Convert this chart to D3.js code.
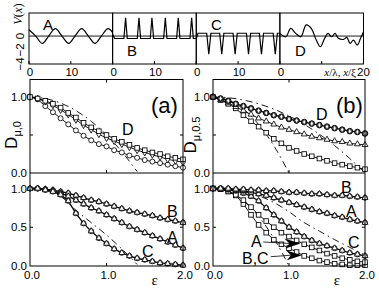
<!DOCTYPE html>
<html>
<head>
<meta charset="utf-8">
<script src="https://cdn.jsdelivr.net/npm/d3@7"></script>
<style>
body { margin: 0; background: #fff; }
text { font-family: "Liberation Sans", Arial, sans-serif; fill: #000; }
</style>
</head>
<body>
<div id="chart"></div>
<script>
// ---- data: top strip potentials V(x), x in units of lambda / xi
const potA_x = [0, 1.6, 3.2, 4.7, 6.3, 7.9, 9.5, 11.0, 12.6, 14.2, 15.8, 17.3, 18.9, 20];
const potA_v = [0.9, 0, -1.05, 0, 1.05, 0, -1.05, 0, 1.05, 0, -1.05, 0, 1.05, 0.5];
const potB_x = [0, 0.5, 2.7, 3.1, 3.5, 5.9, 6.3, 6.7, 9.0, 9.4, 9.8, 12.2, 12.6, 13.0, 15.3, 15.7, 16.1, 18.5, 18.9, 19.3, 20];
const potB_v = [0.2, -0.35, -0.35, 2.6, -0.35, -0.35, 2.6, -0.35, -0.35, 2.6, -0.35, -0.35, 2.6, -0.35, -0.35, 2.6, -0.35, -0.35, 2.6, -0.35, -0.35];
const potC_x = [0, 0.4, 2.5, 3.0, 3.5, 5.6, 6.1, 6.6, 8.8, 9.3, 9.8, 12.0, 12.5, 13.0, 15.1, 15.6, 16.1, 18.4, 18.9, 19.4, 20];
const potC_v = [-0.4, 0.4, 0.4, -2.6, 0.4, 0.4, -2.6, 0.4, 0.4, -2.6, 0.4, 0.4, -2.6, 0.4, 0.4, -2.6, 0.4, 0.4, -2.6, 0.4, 0.4];
const potD_x = [0, 1.4, 2.6, 3.8, 5.0, 6.3, 7.5, 8.7, 9.7, 10.7, 11.5, 12.4, 13.2, 14.0, 15.2, 16.0, 16.8, 17.6, 18.5, 19.3, 20];
const potD_v = [0.38, -0.1, 1.1, 0.38, -0.1, 1.6, 1.1, -0.57, -1.52, -0.33, 0.38, -0.1, 0.38, -0.33, -0.48, -0.2, -1.05, -0.57, -1.3, -0.33, 0.62];
const potLabels = ["A", "B", "C", "D"];
const topXTicks = [0, 10];
const topYTicks = [-4, -2, 0];

// ---- data: D vs epsilon
const eps = [0, 0.1, 0.2, 0.3, 0.4, 0.5, 0.6, 0.7, 0.8, 0.9, 1.0, 1.1, 1.2, 1.3, 1.4, 1.5, 1.6, 1.7, 1.8, 1.9, 2.0];

// (a) top, mu = 0, potential D
const aTopSquares = [1.0, 0.98, 0.95, 0.91, 0.86, 0.79, 0.73, 0.66, 0.60, 0.55, 0.50, 0.45, 0.41, 0.37, 0.33, 0.30, 0.27, 0.25, 0.22, 0.20, 0.18];
const aTopDiamonds = [1.0, 0.98, 0.94, 0.89, 0.83, 0.77, 0.70, 0.63, 0.57, 0.51, 0.46, 0.42, 0.38, 0.34, 0.30, 0.27, 0.24, 0.21, 0.18, 0.16, 0.14];
const aTopCircles = [1.0, 0.97, 0.88, 0.80, 0.72, 0.64, 0.56, 0.49, 0.43, 0.38, 0.35, 0.30, 0.27, 0.23, 0.20, 0.17, 0.15, 0.13, 0.11, 0.09, 0.07];
const aTopTheoryEps = [0, 0.2, 0.4, 0.6, 0.8, 1.0, 1.2, 1.4];
const aTopTheory = [1.0, 0.98, 0.92, 0.82, 0.68, 0.50, 0.28, 0.02];

// (a) bottom, mu = 0, potentials A, B, C
const aBotB = [1.0, 1.0, 0.99, 0.98, 0.96, 0.94, 0.91, 0.88, 0.85, 0.83, 0.80, 0.77, 0.74, 0.71, 0.69, 0.67, 0.65, 0.62, 0.60, 0.58, 0.56];
const aBotA = [1.0, 1.0, 0.99, 0.97, 0.94, 0.90, 0.85, 0.80, 0.75, 0.71, 0.66, 0.61, 0.56, 0.51, 0.47, 0.43, 0.39, 0.35, 0.31, 0.27, 0.23];
const aBotC = [1.0, 1.0, 0.98, 0.96, 0.92, 0.84, 0.68, 0.55, 0.45, 0.36, 0.29, 0.22, 0.17, 0.13, 0.10, 0.08, 0.06, 0.04, 0.03, 0.02, 0.01];
const aBotTheoryEps = [0, 0.2, 0.4, 0.6, 0.8, 1.0, 1.2, 1.4];
const aBotTheory = [1.0, 0.98, 0.90, 0.72, 0.56, 0.40, 0.22, 0.02];

// (b) top, mu = 0.5, potential D
const bTopCircles = [1.0, 0.98, 0.95, 0.91, 0.88, 0.85, 0.82, 0.79, 0.76, 0.74, 0.71, 0.69, 0.67, 0.65, 0.63, 0.61, 0.59, 0.57, 0.55, 0.54, 0.52];
const bTopTriangles = [1.0, 0.96, 0.92, 0.87, 0.82, 0.77, 0.72, 0.68, 0.64, 0.60, 0.57, 0.54, 0.51, 0.48, 0.46, 0.44, 0.42, 0.41, 0.39, 0.38, 0.37];
const bTopSquares = [1.0, 0.96, 0.91, 0.85, 0.76, 0.68, 0.61, 0.53, 0.45, 0.39, 0.33, 0.29, 0.25, 0.22, 0.19, 0.16, 0.13, 0.11, 0.09, 0.07, 0.05];
const bTopSteepEps = [0, 0.2, 0.4, 0.6, 0.8, 1.0];
const bTopSteep = [1.0, 0.96, 0.84, 0.64, 0.36, 0.0];
const bTopFlatEps = [0, 0.2, 0.4, 0.6, 0.8, 1.0, 1.2, 1.4, 1.6, 1.8, 2.0];
const bTopFlat = [1.0, 0.99, 0.96, 0.91, 0.84, 0.75, 0.64, 0.51, 0.36, 0.19, 0.0];

// (b) bottom, mu = 0.5, potentials A, B, C
const bBotB = [1.0, 1.0, 1.0, 0.99, 0.99, 0.98, 0.98, 0.97, 0.97, 0.96, 0.95, 0.95, 0.94, 0.93, 0.93, 0.92, 0.91, 0.91, 0.90, 0.89, 0.88];
const bBotA = [1.0, 1.0, 0.99, 0.98, 0.97, 0.95, 0.93, 0.91, 0.88, 0.85, 0.82, 0.79, 0.76, 0.73, 0.70, 0.68, 0.65, 0.63, 0.60, 0.58, 0.56];
const bBotC = [1.0, 1.0, 0.99, 0.97, 0.94, 0.90, 0.84, 0.75, 0.66, 0.58, 0.50, 0.44, 0.38, 0.33, 0.29, 0.26, 0.23, 0.20, 0.17, 0.15, 0.13];
const bBotAsq = [1.0, 0.99, 0.97, 0.92, 0.85, 0.76, 0.66, 0.58, 0.50, 0.43, 0.38, 0.33, 0.28, 0.24, 0.20, 0.16, 0.13, 0.10, 0.08, 0.06, 0.05];
const bBotBCsq = [1.0, 0.99, 0.96, 0.91, 0.80, 0.66, 0.53, 0.43, 0.34, 0.28, 0.23, 0.18, 0.13, 0.10, 0.07, 0.05, 0.03, 0.02, 0.01, 0.01, 0.01];
const bBotSteepEps = [0, 0.2, 0.4, 0.6, 0.8, 1.0];
const bBotSteep = [1.0, 0.96, 0.84, 0.64, 0.36, 0.0];
const bBotFlatEps = [0, 0.4, 0.8, 1.0, 1.2, 1.4, 1.6, 1.8, 2.0];
const bBotFlat = [1.0, 0.96, 0.82, 0.70, 0.56, 0.45, 0.34, 0.24, 0.14];

const epsTicks = [0, 1, 2];

function main() {
    const svg = d3.select("#chart").append("svg")
        .attr("width", 379)
        .attr("height", 290);

    // ================= top strip =================
    const stripLeft = 29, stripRight = 363.5, stripTop = 13, stripBottom = 64;
    const panelW = (stripRight - stripLeft) / 4;
    const yTop = d3.scaleLinear().domain([-4, 3.3]).range([stripBottom, stripTop]);

    const pots = [
        { x: potA_x, v: potA_v, curve: d3.curveCatmullRom, lx: 43, ly: 30 },
        { x: potB_x, v: potB_v, curve: d3.curveLinear, lx: 127, ly: 56 },
        { x: potC_x, v: potC_v, curve: d3.curveLinear, lx: 211, ly: 30 },
        { x: potD_x, v: potD_v, curve: d3.curveCatmullRom, lx: 295, ly: 56 }
    ];

    svg.append("line")
        .attr("x1", stripLeft).attr("x2", stripRight)
        .attr("y1", yTop(0)).attr("y2", yTop(0))
        .attr("stroke", "#000").attr("stroke-width", 0.9);

    pots.forEach((p, i) => {
        const L = stripLeft + i * panelW;
        const xs = d3.scaleLinear().domain([0, 20]).range([L, L + panelW]);
        const pts = p.x.map((d, k) => [d, p.v[k]]);
        svg.append("path")
            .attr("d", d3.line().x(d => xs(d[0])).y(d => yTop(d[1])).curve(p.curve)(pts))
            .attr("fill", "none")
            .attr("stroke", "#000")
            .attr("stroke-width", 1.2);
        svg.append("rect")
            .attr("x", L).attr("y", stripTop)
            .attr("width", panelW).attr("height", stripBottom - stripTop)
            .attr("fill", "none").attr("stroke", "#000").attr("stroke-width", 1);
        topXTicks.forEach(t => {
            svg.append("line")
                .attr("x1", xs(t)).attr("x2", xs(t))
                .attr("y1", stripBottom).attr("y2", stripBottom - 3)
                .attr("stroke", "#000");
            // the last panel carries the axis name instead of its "10"
            if (i === 3 && t === 10) return;
            svg.append("text")
                .attr("x", xs(t) + 1).attr("y", 76)
                .attr("text-anchor", "middle")
                .attr("font-size", 11.5)
                .text(t);
        });
        svg.append("text")
            .attr("x", p.lx).attr("y", p.ly)
            .attr("font-size", 15)
            .text(potLabels[i]);
    });
    svg.append("text")
        .attr("x", stripRight).attr("y", 76)
        .attr("text-anchor", "middle")
        .attr("font-size", 11.5)
        .text(20);
    svg.append("text")
        .attr("x", 356).attr("y", 75.5)
        .attr("text-anchor", "end")
        .attr("font-size", 11)
        .style("font-family", "'Liberation Serif', serif")
        .html("<tspan font-style='italic'>x</tspan>/λ, <tspan font-style='italic'>x</tspan>/ξ");

    topYTicks.forEach(t => {
        svg.append("text")
            .attr("transform", "translate(24," + yTop(t) + ") rotate(-90)")
            .attr("text-anchor", "middle")
            .attr("font-size", 11.5)
            .text(t === 0 ? "0" : "\u2212" + Math.abs(t));
    });
    svg.append("text")
        .attr("transform", "translate(22,14) rotate(-90)")
        .attr("text-anchor", "middle")
        .attr("font-size", 12.5)
        .style("font-family", "'Liberation Serif', serif")
        .html("<tspan font-style='italic'>V</tspan>(<tspan font-style='italic'>x</tspan>)");

    // ================= lower panels =================
    const yTopSub = d3.scaleLinear().domain([0, 1.23]).range([173, 79.5]);
    const yBotSub = d3.scaleLinear().domain([0, 1.2]).range([266, 173]);

    function marker(g, type, cx, cy) {
        if (type === "circle") {
            g.append("circle").attr("cx", cx).attr("cy", cy).attr("r", 2.5)
                .attr("fill", "#fff").attr("stroke", "#000").attr("stroke-width", 0.85);
        } else if (type === "square") {
            g.append("rect").attr("x", cx - 2.3).attr("y", cy - 2.3).attr("width", 4.6).attr("height", 4.6)
                .attr("fill", "#fff").attr("stroke", "#000").attr("stroke-width", 0.85);
        } else if (type === "triangle") {
            g.append("path").attr("d", d3.symbol(d3.symbolTriangle, 15)())
                .attr("transform", "translate(" + cx + "," + cy + ")")
                .attr("fill", "#fff").attr("stroke", "#000").attr("stroke-width", 0.85);
        } else if (type === "diamond") {
            g.append("path").attr("d", d3.symbol(d3.symbolDiamond, 14)())
                .attr("transform", "translate(" + cx + "," + cy + ")")
                .attr("fill", "#fff").attr("stroke", "#000").attr("stroke-width", 0.85);
        } else if (type === "bold") {
            g.append("circle").attr("cx", cx).attr("cy", cy).attr("r", 2.8)
                .attr("fill", "#555").attr("stroke", "#000").attr("stroke-width", 1);
            g.append("path").attr("d", d3.symbol(d3.symbolDiamond, 9)())
                .attr("transform", "translate(" + cx + "," + cy + ")")
                .attr("fill", "#fff").attr("stroke", "#000").attr("stroke-width", 0.5);
        }
    }

    function series(g, xs, ys, vals, types, lw) {
        const pts = eps.map((e, k) => [e, vals[k]]);
        g.append("path")
            .attr("d", d3.line().x(d => xs(d[0])).y(d => ys(d[1]))(pts))
            .attr("fill", "none").attr("stroke", "#000").attr("stroke-width", lw || 0.9);
        types.forEach(t => pts.forEach(d => marker(g, t, xs(d[0]), ys(d[1]))));
    }

    function theory(g, xs, ys, ex, vals) {
        const pts = ex.map((e, k) => [e, vals[k]]);
        g.append("path")
            .attr("d", d3.line().x(d => xs(d[0])).y(d => ys(d[1])).curve(d3.curveMonotoneX)(pts))
            .attr("fill", "none").attr("stroke", "#000").attr("stroke-width", 0.9)
            .attr("stroke-dasharray", "7,4,1.5,4");
    }

    function frame(L, R, labelX, sub) {
        const xs = d3.scaleLinear().domain([0, 2]).range([L, R]);
        const g = svg.append("g");
        // ticks
        [[yTopSub, [0.5]], [yBotSub, [0.5]]].forEach(([ys, tv]) => {
            tv.forEach(t => {
                g.append("line").attr("x1", L).attr("x2", L + 3).attr("y1", ys(t)).attr("y2", ys(t)).attr("stroke", "#000");
                g.append("line").attr("x1", R).attr("x2", R - 3).attr("y1", ys(t)).attr("y2", ys(t)).attr("stroke", "#000");
            });
        });
        [79.5, 173, 266].forEach((yy, k) => {
            g.append("line").attr("x1", xs(1)).attr("x2", xs(1))
                .attr("y1", yy).attr("y2", k === 0 ? yy + 3 : yy - 3).attr("stroke", "#000");
        });
        // y tick labels
        [[yTopSub, [0, 1]], [yBotSub, [0, 0.5, 1]]].forEach(([ys, tv]) => {
            tv.forEach(t => {
                g.append("text").attr("x", L - 3).attr("y", ys(t) + 4)
                    .attr("text-anchor", "end").attr("font-size", 11.5)
                    .text(d3.format(".1f")(t));
            });
        });
        epsTicks.forEach(t => {
            g.append("text").attr("x", xs(t) + 2).attr("y", 279)
                .attr("text-anchor", "middle").attr("font-size", 11.5)
                .text(d3.format(".1f")(t));
        });
        g.append("text").attr("x", xs(1.63)).attr("y", 285)
            .attr("text-anchor", "middle").attr("font-size", 15)
            .style("font-family", "'Liberation Serif', serif")
            .text("\u03b5");
        g.append("text")
            .attr("transform", "translate(" + labelX + "," + 135 + ") rotate(-90)")
            .attr("text-anchor", "middle")
            .attr("font-size", 17)
            .html("D<tspan font-size='11' dy='4'>" + sub + "</tspan>");
        return { xs, g };
    }

    function box(L, R) {
        svg.append("rect").attr("x", L).attr("y", 79.5).attr("width", R - L).attr("height", 266 - 79.5)
            .attr("fill", "none").attr("stroke", "#000").attr("stroke-width", 1);
        svg.append("line").attr("x1", L).attr("x2", R).attr("y1", 173).attr("y2", 173)
            .attr("stroke", "#000").attr("stroke-width", 1);
    }

    // ----- panel (a)
    const pa = frame(30, 183, 17, "\u03bc,0");
    theory(pa.g, pa.xs, yTopSub, aTopTheoryEps, aTopTheory);
    theory(pa.g, pa.xs, yBotSub, aBotTheoryEps, aBotTheory);
    series(pa.g, pa.xs, yTopSub, aTopCircles, ["circle"]);
    series(pa.g, pa.xs, yTopSub, aTopDiamonds, ["diamond"]);
    series(pa.g, pa.xs, yTopSub, aTopSquares, ["square"]);
    series(pa.g, pa.xs, yBotSub, aBotB, ["circle", "triangle"], 1.3);
    series(pa.g, pa.xs, yBotSub, aBotA, ["circle", "triangle"], 1.3);
    series(pa.g, pa.xs, yBotSub, aBotC, ["circle", "triangle"], 1.3);
    box(30, 183);

    // ----- panel (b)
    const pb = frame(213, 365, 196, "\u03bc,0.5");
    theory(pb.g, pb.xs, yTopSub, bTopSteepEps, bTopSteep);
    theory(pb.g, pb.xs, yTopSub, bTopFlatEps, bTopFlat);
    theory(pb.g, pb.xs, yBotSub, bBotSteepEps, bBotSteep);
    theory(pb.g, pb.xs, yBotSub, bBotFlatEps, bBotFlat);
    series(pb.g, pb.xs, yTopSub, bTopSquares, ["square"]);
    series(pb.g, pb.xs, yTopSub, bTopTriangles, ["triangle"]);
    series(pb.g, pb.xs, yTopSub, bTopCircles, ["bold"], 1.3);
    series(pb.g, pb.xs, yBotSub, bBotBCsq, ["square"]);
    series(pb.g, pb.xs, yBotSub, bBotAsq, ["square"]);
    series(pb.g, pb.xs, yBotSub, bBotC, ["circle", "triangle"], 1.3);
    series(pb.g, pb.xs, yBotSub, bBotA, ["circle", "triangle"], 1.3);
    series(pb.g, pb.xs, yBotSub, bBotB, ["circle", "triangle"], 1.3);
    box(213, 365);

    // labels
    const labels = [
        ["(a)", 151, 113, 22], ["(b)", 336, 113, 22],
        ["D", 122, 135, 16], ["D", 316, 120, 16],
        ["B", 167, 217, 16], ["A", 167, 243, 16], ["C", 142, 257, 16],
        ["B", 341, 193, 16], ["A", 346, 217, 16], ["C", 348, 248, 16],
        ["A", 251, 247, 16], ["B,C", 242, 264, 16]
    ];
    labels.forEach(l => {
        svg.append("text").attr("x", l[1]).attr("y", l[2]).attr("font-size", l[3]).text(l[0]);
    });

    // arrows
    const xb = pb.xs;
    [[0.66, 1.15, 0.31, 0.29], [0.76, 1.17, 0.12, 0.14]].forEach(a => {
        const x1 = xb(a[0]), x2 = xb(a[1]), y1 = yBotSub(a[2]), y2 = yBotSub(a[3]);
        svg.append("line").attr("x1", x1).attr("y1", y1).attr("x2", x2 - 10).attr("y2", y2)
            .attr("stroke", "#000").attr("stroke-width", 0.8);
        svg.append("path")
            .attr("d", "M" + x2 + "," + y2 + "L" + (x2 - 16) + "," + (y2 - 5) + "L" + (x2 - 11) + "," + y2 + "L" + (x2 - 15) + "," + (y2 + 5) + "Z")
            .attr("fill", "#000");
    });
}
main();
</script>
</body>
</html>
